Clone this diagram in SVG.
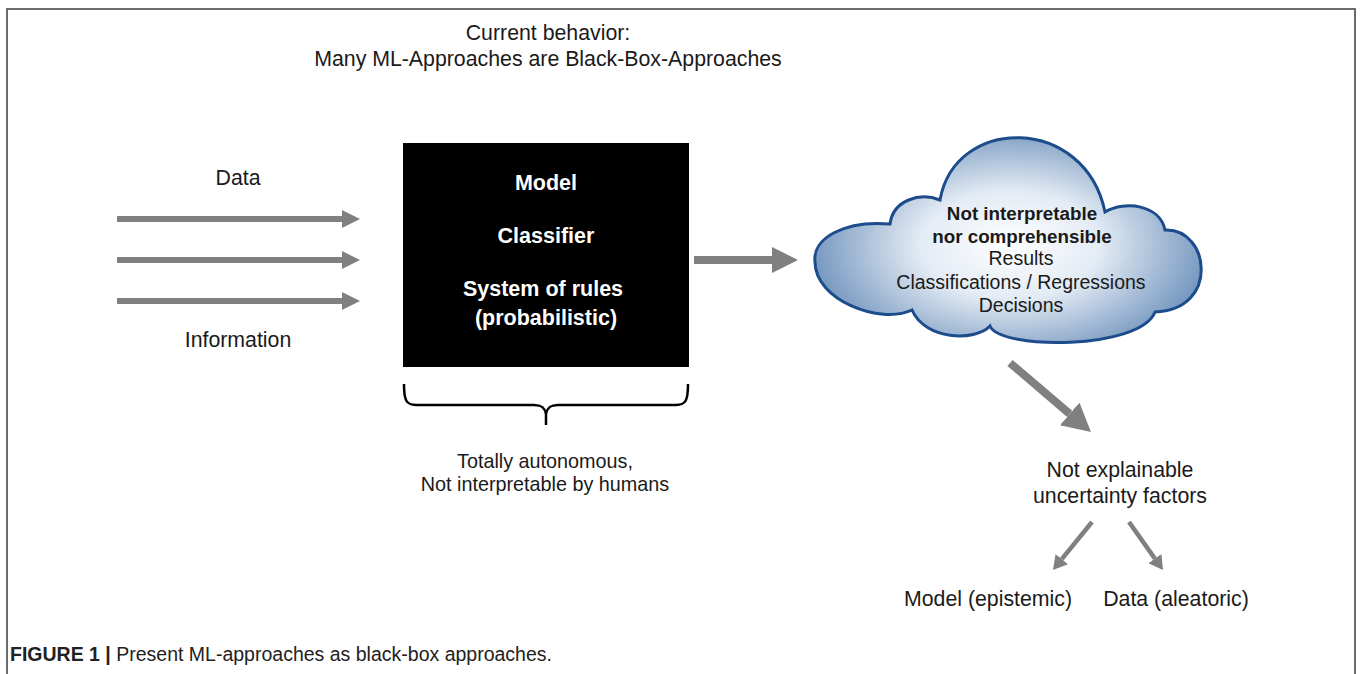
<svg xmlns="http://www.w3.org/2000/svg" width="1360" height="674" viewBox="0 0 1360 674">
<defs>
<style>
text{font-family:"Liberation Sans",Arial,Helvetica,sans-serif;fill:#1a1a1a}
.lbl{font-size:21.3px;text-anchor:middle}
.box{font-size:21.5px;font-weight:bold;fill:#ffffff;text-anchor:middle}
.cl{font-size:19.5px;text-anchor:middle}
.br{font-size:19.8px;text-anchor:middle}
.clb{font-size:18.8px;font-weight:bold;text-anchor:middle}
.arr{stroke:#808080;fill:none}
</style>
<radialGradient id="cg" cx="1010" cy="245" r="200" gradientUnits="userSpaceOnUse" gradientTransform="translate(1010 245) scale(1 0.6) translate(-1010 -245)">
<stop offset="0" stop-color="#ffffff"/>
<stop offset="0.45" stop-color="#e3ebf4"/>
<stop offset="1" stop-color="#7597bf"/>
</radialGradient>
<marker id="hL" markerUnits="userSpaceOnUse" markerWidth="18" markerHeight="18" refX="0" refY="9" orient="auto" viewBox="0 0 18 18"><path d="M0,0 L18,9 L0,18 z" fill="#808080"/></marker>
<marker id="hM" markerUnits="userSpaceOnUse" markerWidth="26" markerHeight="26" refX="0" refY="13" orient="auto" viewBox="0 0 26 26"><path d="M0,0 L26,13 L0,26 z" fill="#808080"/></marker>
<marker id="hD" markerUnits="userSpaceOnUse" markerWidth="28" markerHeight="30" refX="0" refY="15" orient="auto" viewBox="0 0 28 30"><path d="M0,0 L28,15 L0,30 z" fill="#808080"/></marker>
<marker id="hS" markerUnits="userSpaceOnUse" markerWidth="14" markerHeight="16" refX="0" refY="8" orient="auto" viewBox="0 0 14 16"><path d="M0,0 L14,8 L0,16 z" fill="#808080"/></marker>
</defs>
<rect width="1360" height="674" fill="#ffffff"/>
<path d="M7,674 L7,9 L1355,9 L1355,674" fill="none" stroke="#6b6b6b" stroke-width="2"/>

<g id="title">
<text class="lbl" x="548" y="40">Current behavior:</text>
<text class="lbl" x="548" y="66">Many ML-Approaches are Black-Box-Approaches</text>
</g>

<g id="input-labels">
<text class="lbl" x="238" y="185">Data</text>
<text class="lbl" x="238" y="347">Information</text>
</g>

<g id="blackbox">
<rect x="403" y="143" width="286" height="224" fill="#000000"/>
<text class="box" x="546" y="190">Model</text>
<text class="box" x="546" y="243">Classifier</text>
<text class="box" x="543" y="296">System of rules</text>
<text class="box" x="546" y="325">(probabilistic)</text>
</g>

<g id="brace">
<path d="M404,384 C404,400 406,405 416,405 L534,405 C542,405 545,408 546,414 L546,425 M546,414 C547,408 550,405 558,405 L676,405 C686,405 688,400 688,384" fill="none" stroke="#000000" stroke-width="2.5"/>
<text class="br" x="545" y="468">Totally autonomous,</text>
<text class="br" x="545" y="491">Not interpretable by humans</text>
</g>

<g id="cloud">
<path d="M815,262 C812,238 845,220 890,224 C893,200 920,192 940,200 C955,115 1085,115 1105,212 C1125,200 1160,205 1165,230 C1210,228 1220,310 1155,312 C1140,350 1000,350 990,326 C975,342 925,340 912,310 C880,325 815,300 815,262 Z" fill="url(#cg)" stroke="#1d4c8c" stroke-width="3"/>
<text class="clb" x="1022" y="220">Not interpretable</text>
<text class="clb" x="1022" y="243">nor comprehensible</text>
<text class="cl" x="1021" y="265">Results</text>
<text class="cl" x="1021" y="289">Classifications / Regressions</text>
<text class="cl" x="1021" y="312">Decisions</text>
</g>

<g id="uncertainty">
<text class="lbl" x="1120" y="477">Not explainable</text>
<text class="lbl" x="1120" y="503">uncertainty factors</text>
</g>

<g id="epistemic"><text class="lbl" x="988" y="606">Model (epistemic)</text></g>
<g id="aleatoric"><text class="lbl" x="1176" y="606">Data (aleatoric)</text></g>

<g id="connectors">
<line class="arr" x1="117" y1="219" x2="342" y2="219" stroke-width="6" marker-end="url(#hL)"/>
<line class="arr" x1="117" y1="260" x2="342" y2="260" stroke-width="6" marker-end="url(#hL)"/>
<line class="arr" x1="117" y1="301" x2="342" y2="301" stroke-width="6" marker-end="url(#hL)"/>
<line class="arr" x1="694" y1="260" x2="772" y2="260" stroke-width="8" marker-end="url(#hM)"/>
<line class="arr" x1="1010" y1="363" x2="1069.7" y2="413.9" stroke-width="8" marker-end="url(#hD)"/>
<line class="arr" x1="1092" y1="522" x2="1061.8" y2="559.1" stroke-width="4.5" marker-end="url(#hS)"/>
<line class="arr" x1="1129" y1="522" x2="1154.9" y2="558.6" stroke-width="4.5" marker-end="url(#hS)"/>
</g>

<g id="caption">
<text x="10" y="661" style="font-size:19.5px;fill:#222222"><tspan font-weight="bold">FIGURE 1 |</tspan> Present ML-approaches as black-box approaches.</text>
</g>
</svg>
